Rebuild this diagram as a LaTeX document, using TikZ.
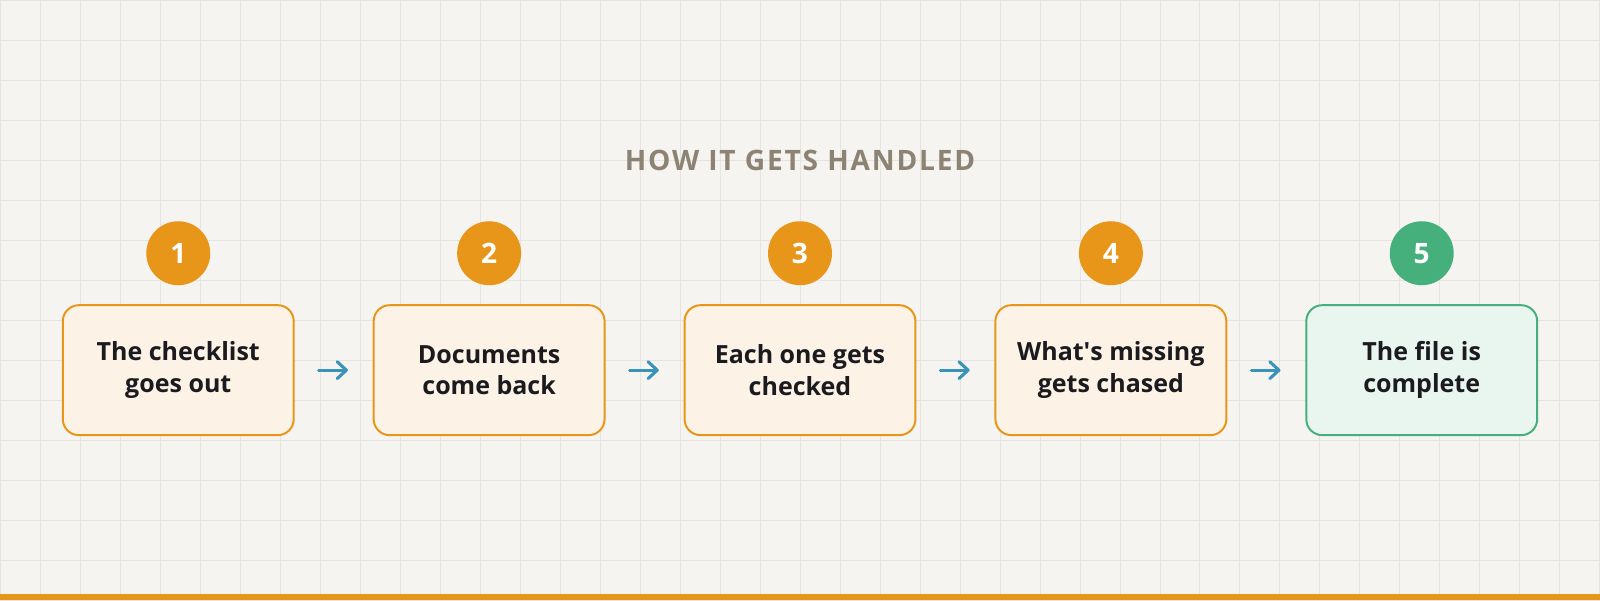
\documentclass[tikz,border=0pt]{standalone}
\usepackage{fontspec}
\setmainfont{Open Sans}
\newfontfamily\headfont{Open Sans}[LetterSpace=6.5]
\usetikzlibrary{arrows.meta}

\definecolor{paper}{HTML}{F5F4F0}
\definecolor{gridgray}{HTML}{E6E4DF}
\definecolor{amber}{HTML}{E8961A}
\definecolor{amberfill}{HTML}{FCF3E6}
\definecolor{leaf}{HTML}{45B07C}
\definecolor{leaffill}{HTML}{E9F6EF}
\definecolor{flowblue}{HTML}{3A93B8}
\definecolor{ink}{HTML}{1A1A1F}
\definecolor{headgray}{HTML}{8C8374}

\tikzset{
  stepbox/.style={draw=amber, fill=amberfill, line width=1.4pt, rounded corners=0.4cm,
    minimum width=5.775cm, minimum height=3.25cm, align=center, text=ink,
    font=\bfseries\fontsize{17.8}{22.5}\selectfont},
  donebox/.style={stepbox, draw=leaf, fill=leaffill},
  badge/.style={circle, fill=amber, minimum size=1.6cm, inner sep=0pt, text=white,
    font=\bfseries\fontsize{20}{24}\selectfont},
  donebadge/.style={badge, fill=leaf},
  flow/.style={draw=flowblue, line width=2.2pt, line cap=round,
    -{Straight Barb[length=6.5pt, width=12pt, line cap=round, line join=round]},
    shorten >=0.62cm, shorten <=0.6cm}
}

\begin{document}
\begin{tikzpicture}

\fill[paper] (0,0) rectangle (40,15);
\draw[gridgray, line width=0.5pt] (0,0) grid (40,15);
\fill[amber] (0,0) rectangle (40,0.15);

\node[text=headgray, font=\headfont\bfseries\fontsize{20}{24}\selectfont] (title) at (20,11.0) {HOW IT GETS HANDLED};

\node[badge] (n1) at (4.45,8.675) {1};
\node[badge] (n2) at (12.225,8.675) {2};
\node[badge] (n3) at (20,8.675) {3};
\node[badge] (n4) at (27.775,8.675) {4};
\node[donebadge] (n5) at (35.55,8.675) {5};

\node[stepbox] (s1) at (4.45,5.75) {The checklist\\goes out};
\node[stepbox] (s2) at (12.225,5.75) {Documents\\come back};
\node[stepbox] (s3) at (20,5.75) {Each one gets\\checked};
\node[stepbox] (s4) at (27.775,5.75) {What\textquotesingle s missing\\gets chased};
\node[donebox] (s5) at (35.55,5.75) {The file is\\complete};

\draw[flow] (s1.east) -- (s2.west);
\draw[flow] (s2.east) -- (s3.west);
\draw[flow] (s3.east) -- (s4.west);
\draw[flow] (s4.east) -- (s5.west);
\end{tikzpicture}
\end{document}
